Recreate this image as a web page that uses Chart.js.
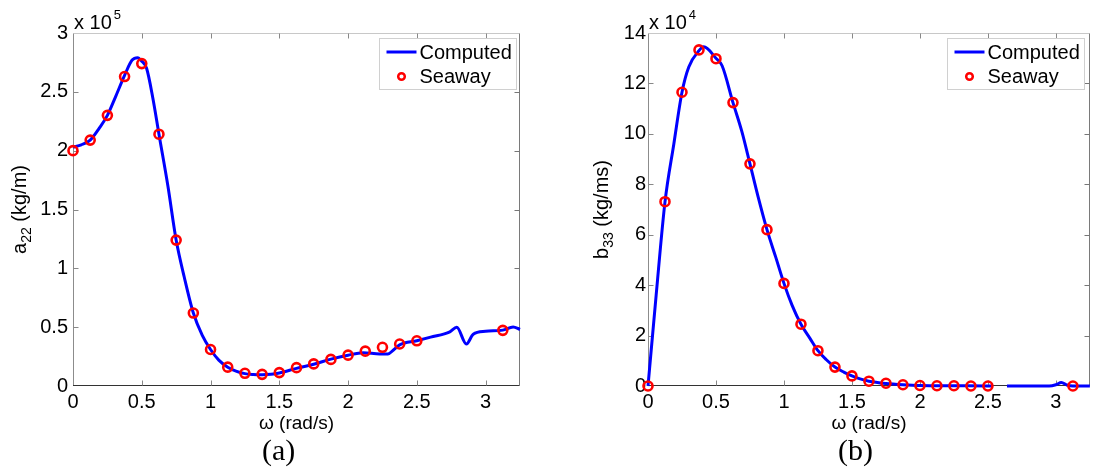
<!DOCTYPE html>
<html>
<head>
<meta charset="utf-8">
<script src="https://cdn.jsdelivr.net/npm/chart.js@4.4.1/dist/chart.umd.min.js"></script>
<style>
html,body{margin:0;padding:0;background:#fff;}
#wrap{position:relative;width:1097px;height:476px;overflow:hidden;background:#fff;}
.box{position:absolute;top:0;height:476px;}
#boxA{left:0;width:548px;}
#boxB{left:548px;width:549px;}
.cap{position:absolute;top:435px;line-height:30px;font-family:"Liberation Serif","Times New Roman",serif;font-size:30px;color:#000;}
</style>
</head>
<body>
<div id="wrap">
  <div class="box" id="boxA"><canvas id="cA" width="548" height="476"></canvas></div>
  <div class="box" id="boxB"><canvas id="cB" width="549" height="476"></canvas></div>
  <div class="cap" style="left:262px">(a)</div>
  <div class="cap" style="left:838px">(b)</div>
</div>
<script>
// ---------- data ----------
// frequency ω (rad/s) of the Seaway reference points (both panels)
const omegaSeaway = [0, 0.125, 0.25, 0.375, 0.5, 0.625, 0.75, 0.875, 1.0, 1.125, 1.25, 1.375, 1.5, 1.625, 1.75, 1.875, 2.0, 2.125, 2.25, 2.375, 2.5, 3.125];

// (a) added mass a22 (kg/m)
const a22Seaway = [2.00e5, 2.09e5, 2.30e5, 2.63e5, 2.74e5, 2.14e5, 1.24e5, 0.62e5, 0.31e5, 0.16e5, 0.108e5, 0.099e5, 0.114e5, 0.156e5, 0.188e5, 0.226e5, 0.262e5, 0.296e5, 0.329e5, 0.357e5, 0.384e5, 0.473e5];
const omegaComputedA = [0, 0.06, 0.125, 0.19, 0.25, 0.31, 0.375, 0.43, 0.47, 0.5, 0.535, 0.58, 0.625, 0.69, 0.75, 0.81, 0.875, 0.94, 1.0, 1.06, 1.125, 1.19, 1.25, 1.31, 1.375, 1.44, 1.5, 1.625, 1.75, 1.875, 2.0, 2.11, 2.23, 2.29, 2.33, 2.375, 2.5, 2.6, 2.74, 2.79, 2.86, 2.91, 3.0, 3.125, 3.2, 3.25];
const a22Computed = [2.03e5, 2.05e5, 2.09e5, 2.19e5, 2.30e5, 2.46e5, 2.64e5, 2.77e5, 2.79e5, 2.76e5, 2.70e5, 2.45e5, 2.14e5, 1.70e5, 1.24e5, 0.92e5, 0.62e5, 0.43e5, 0.31e5, 0.22e5, 0.16e5, 0.125e5, 0.105e5, 0.098e5, 0.096e5, 0.100e5, 0.110e5, 0.150e5, 0.185e5, 0.228e5, 0.262e5, 0.283e5, 0.272e5, 0.272e5, 0.306e5, 0.350e5, 0.385e5, 0.415e5, 0.460e5, 0.499e5, 0.357e5, 0.440e5, 0.465e5, 0.475e5, 0.502e5, 0.480e5];

// (b) damping b33 (kg/ms)
const b33Seaway = [0, 7.31e4, 11.65e4, 13.33e4, 12.98e4, 11.24e4, 8.81e4, 6.20e4, 4.07e4, 2.45e4, 1.40e4, 0.75e4, 0.40e4, 0.19e4, 0.11e4, 0.05e4, 0.02e4, 0.01e4, 0.01e4, 0, 0, 0];
const omegaComputedB = [0, 0.06, 0.125, 0.19, 0.25, 0.3, 0.375, 0.41, 0.5, 0.545, 0.625, 0.69, 0.75, 0.81, 0.875, 0.94, 1.0, 1.06, 1.125, 1.19, 1.25, 1.31, 1.375, 1.44, 1.5, 1.56, 1.625, 1.75, 1.875, 2.0, 2.25, 2.5, 2.53, 2.58, 2.64, 2.95, 3.0, 3.04, 3.08, 3.125, 3.25];
const b33Computed = [0, 3.6e4, 7.3e4, 9.6e4, 11.65e4, 12.65e4, 13.3e4, 13.45e4, 13.0e4, 12.7e4, 11.24e4, 10.1e4, 8.81e4, 7.5e4, 6.2e4, 5.1e4, 4.07e4, 3.2e4, 2.45e4, 1.9e4, 1.4e4, 1.05e4, 0.75e4, 0.55e4, 0.40e4, 0.28e4, 0.19e4, 0.10e4, 0.05e4, 0.02e4, 0.01e4, 0, 0, null, 0, 0, 0.05e4, 0.14e4, 0.04e4, 0, 0];

// tick values
const omegaTicks = [0, 0.5, 1, 1.5, 2, 2.5, 3];
const a22Ticks = [0, 0.5e5, 1e5, 1.5e5, 2e5, 2.5e5, 3e5];
const b33Ticks = [0, 2e4, 4e4, 6e4, 8e4, 10e4, 12e4, 14e4];

// labels
const seriesNames = ['Computed', 'Seaway'];
const xTitle = 'ω (rad/s)';
const yTitleA = ['a', '22', ' (kg/m)'];   // symbol, subscript, unit
const yTitleB = ['b', '33', ' (kg/ms)'];

// ---------- plugins ----------
const FONT = "'Liberation Sans', Arial, sans-serif";

const framePlugin = {
  id: 'frame',
  beforeDatasetsDraw(chart) {
    const {ctx, chartArea: ca, scales} = chart;
    const xs = scales.x, ys = scales.y;
    const L = Math.round(ca.left) + 0.5, R = Math.round(ca.right) - 0.5;
    const T = Math.round(ca.top) + 0.5, B = Math.round(ca.bottom) - 0.5;
    ctx.save();
    ctx.lineWidth = 1;
    const seg = (c, x1, y1, x2, y2) => { ctx.strokeStyle = c; ctx.beginPath(); ctx.moveTo(x1, y1); ctx.lineTo(x2, y2); ctx.stroke(); };
    seg('#c8c8c8', L, T, R, T);
    seg('#7a7a7a', R, T, R, B);
    seg('#8c8c8c', L, T, L, B);
    seg('#333333', L - 0.5, B, R, B);
    const tl = 5;
    xs.ticks.forEach(t => {
      const p = Math.round(xs.getPixelForValue(t.value)) + 0.5;
      if (p <= L + 1 || p >= R - 1) return;
      seg('#888888', p, B, p, B - tl);
      seg('#888888', p, T, p, T + tl);
    });
    ys.ticks.forEach(t => {
      const p = Math.round(ys.getPixelForValue(t.value)) + 0.5;
      if (p >= B - 1 || p <= T + 1) return;
      seg('#888888', L, p, L + tl, p);
      seg('#777777', R, p, R - tl, p);
    });
    ctx.restore();
  }
};

const multiplierPlugin = {
  id: 'multiplier',
  afterDraw(chart, args, opts) {
    const {ctx, chartArea: ca} = chart;
    ctx.save();
    ctx.fillStyle = '#000';
    ctx.textBaseline = 'middle';
    ctx.textAlign = 'left';
    ctx.font = '20px ' + FONT;
    const x0 = ca.left + 1;
    ctx.fillText(opts.base, x0, 23);
    const w = ctx.measureText(opts.base).width;
    ctx.font = '13px ' + FONT;
    ctx.fillText(opts.exp, x0 + w + 2, 15);
    ctx.restore();
  }
};

// rotated y-axis title with a real subscript
const yTitlePlugin = {
  id: 'yTitleSub',
  afterDraw(chart, args, opts) {
    const {ctx, chartArea: ca} = chart;
    const [sym, sub, unit] = opts.parts;
    const big = '20px ' + FONT, small = '14px ' + FONT;
    ctx.save();
    ctx.font = big;
    const w1 = ctx.measureText(sym).width, w3 = ctx.measureText(unit).width;
    ctx.font = small;
    const w2 = ctx.measureText(sub).width;
    const total = w1 + w2 + w3;
    const cy = (ca.top + ca.bottom) / 2;
    ctx.translate(opts.x, cy);
    ctx.rotate(-Math.PI / 2);
    ctx.fillStyle = '#000';
    ctx.textAlign = 'left';
    ctx.textBaseline = 'alphabetic';
    let x = -total / 2;
    const base = 7;
    ctx.font = big; ctx.fillText(sym, x, base); x += w1;
    ctx.font = small; ctx.fillText(sub, x, base + 5); x += w2;
    ctx.font = big; ctx.fillText(unit, x, base);
    ctx.restore();
  }
};

const legendPlugin = {
  id: 'boxLegend',
  afterDatasetsDraw(chart, args, opts) {
    const {ctx, chartArea: ca} = chart;
    const w = opts.width, h = opts.height;
    const x0 = Math.round(ca.right - opts.right - w) + 0.5;
    const y0 = Math.round(ca.top + opts.top) + 0.5;
    ctx.save();
    ctx.fillStyle = '#fff';
    ctx.fillRect(x0, y0, w, h);
    ctx.strokeStyle = '#d0d0d0';
    ctx.lineWidth = 1;
    ctx.strokeRect(x0, y0, w, h);
    ctx.font = '20px ' + FONT;
    ctx.textBaseline = 'middle';
    ctx.textAlign = 'left';
    chart.data.datasets.forEach((ds, i) => {
      const cy = y0 + opts.rows[i];
      if (ds.showLine) {
        ctx.strokeStyle = ds.borderColor;
        ctx.lineWidth = 3;
        ctx.beginPath();
        ctx.moveTo(x0 + 7, cy);
        ctx.lineTo(x0 + 37, cy);
        ctx.stroke();
      } else {
        ctx.strokeStyle = ds.borderColor;
        ctx.lineWidth = 2.5;
        ctx.beginPath();
        ctx.arc(x0 + 22, cy, 3.3, 0, Math.PI * 2);
        ctx.stroke();
      }
      ctx.fillStyle = '#000';
      ctx.fillText(ds.label, x0 + 40, cy + 1);
    });
    ctx.restore();
  }
};

function makeChart(id, cfg) {
  const toXY = (xs, ys) => xs.map((x, i) => ({x: x, y: ys[i]}));
  return new Chart(document.getElementById(id), {
    type: 'scatter',
    data: {
      datasets: [
        {
          label: seriesNames[0],
          data: toXY(cfg.xc, cfg.yc),
          showLine: true,
          borderColor: '#0000ff',
          backgroundColor: '#0000ff',
          borderWidth: 3,
          pointRadius: 0,
          cubicInterpolationMode: 'monotone',
          spanGaps: false,
          clip: false,
          order: 1
        },
        {
          label: seriesNames[1],
          data: toXY(omegaSeaway, cfg.ys),
          showLine: false,
          borderColor: '#ff0000',
          backgroundColor: 'rgba(0,0,0,0)',
          borderWidth: 2.6,
          pointRadius: 4.5,
          pointStyle: 'circle',
          clip: false,
          order: 0
        }
      ]
    },
    options: {
      responsive: false,
      animation: false,
      events: [],
      devicePixelRatio: 1,
      layout: {padding: {left: 0, top: 33, right: cfg.padRight, bottom: 0}},
      plugins: {
        legend: {display: false},
        tooltip: {enabled: false},
        multiplier: {base: 'x 10', exp: cfg.exp},
        yTitleSub: {parts: cfg.yTitle, x: cfg.yTitleX},
        boxLegend: {width: 137, height: 51, right: cfg.legRight, top: 5, rows: [13.5, 38]}
      },
      scales: {
        x: {
          type: 'linear',
          min: 0,
          max: 3.25,
          afterBuildTicks: s => { s.ticks = omegaTicks.map(v => ({value: v})); },
          afterFit: s => { s.height = 90; },
          grid: {display: false, drawTicks: false},
          border: {display: false},
          ticks: {
            color: '#000',
            font: {family: FONT, size: 20},
            padding: 4,
            maxRotation: 0,
            autoSkip: false,
            callback: v => String(v)
          },
          title: {
            display: true,
            text: xTitle,
            color: '#000',
            font: {family: FONT, size: 19},
            padding: {top: 0, bottom: 41}
          }
        },
        y: {
          type: 'linear',
          min: 0,
          max: cfg.ymax,
          afterBuildTicks: s => { s.ticks = cfg.yTicks.map(v => ({value: v})); },
          afterFit: s => { s.width = cfg.yWidth; },
          grid: {display: false, drawTicks: false},
          border: {display: false},
          ticks: {
            color: '#000',
            font: {family: FONT, size: 20},
            padding: cfg.yPad,
            autoSkip: false,
            callback: cfg.yFmt
          },
          title: {display: false, text: cfg.yTitle.join('')}
        }
      }
    },
    plugins: [framePlugin, legendPlugin, multiplierPlugin, yTitlePlugin]
  });
}

makeChart('cA', {
  xc: omegaComputedA, yc: a22Computed, ys: a22Seaway,
  ymax: 3e5, yTicks: a22Ticks, yFmt: v => String(Math.round(v / 1e4) / 10),
  yTitle: yTitleA, yTitleX: 19, yWidth: 73, yPad: 5, padRight: 28, legRight: 4.5, exp: '5'
});
makeChart('cB', {
  xc: omegaComputedB, yc: b33Computed, ys: b33Seaway,
  ymax: 14e4, yTicks: b33Ticks, yFmt: v => String(Math.round(v / 1e4)),
  yTitle: yTitleB, yTitleX: 53, yWidth: 100, yPad: 2, padRight: 1, legRight: 5.5, exp: '4'
});
</script>
</body>
</html>
